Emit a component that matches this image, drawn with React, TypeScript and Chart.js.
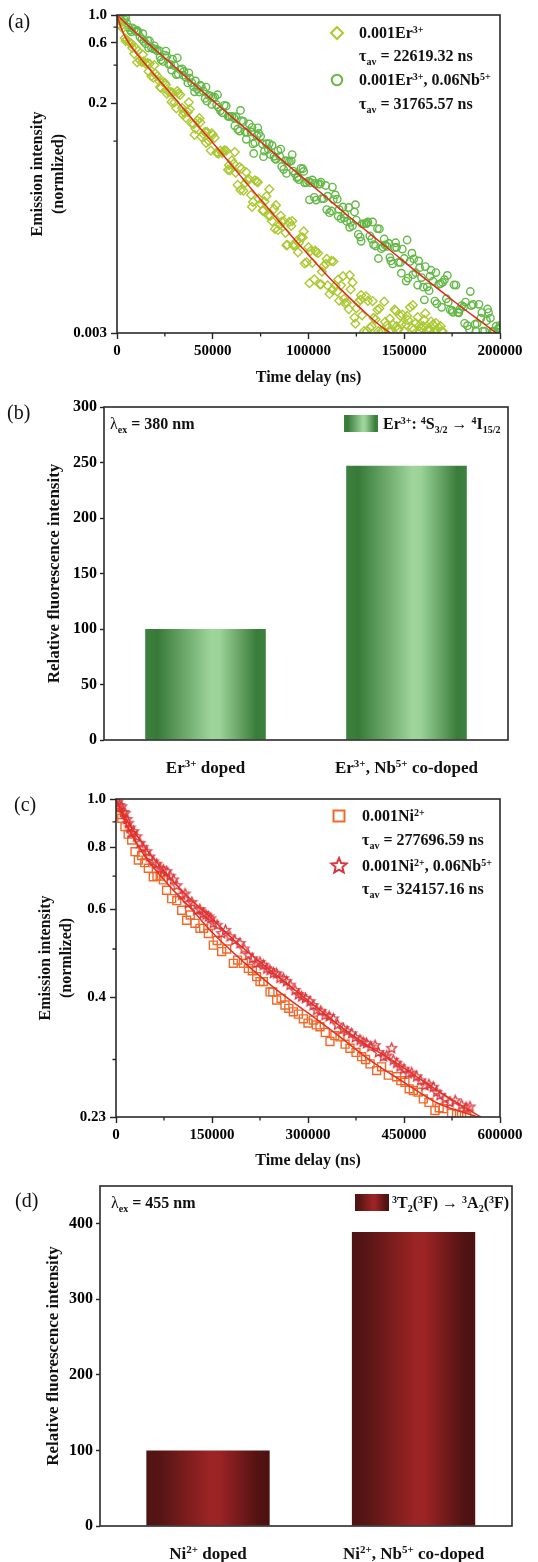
import React, { useEffect, useRef } from 'react';
import { Chart, registerables } from 'chart.js';

Chart.register(...registerables);

const SERIF = '"Liberation Serif", "Times New Roman", Times, serif';

// ---------------- Panel (a) data ----------------
const erTime = [0, 2000, 4000, 6000, 8000, 10000, 12000, 14000, 16000, 18000, 20000, 22000, 24000, 26000, 28000, 30000, 32000, 34000, 36000, 38000, 40000, 42000, 44000, 46000, 48000, 50000, 52000, 54000, 56000, 58000, 60000, 62000, 64000, 66000, 68000, 70000, 72000, 74000, 76000, 78000, 80000, 82000, 84000, 86000, 88000, 90000, 92000, 94000, 96000, 98000, 100000, 102000, 104000, 106000, 108000, 110000, 112000, 114000, 116000, 118000, 120000, 122000, 124000, 126000, 128000, 130000, 132000, 134000, 136000, 138000, 140000, 142000, 144000, 146000, 148000, 150000, 152000, 154000, 156000, 158000, 160000, 162000, 164000, 166000, 168000, 170000];
const erIntensity = [1.0, 0.818, 0.656, 0.615, 0.548, 0.543, 0.436, 0.428, 0.416, 0.327, 0.343, 0.299, 0.296, 0.238, 0.245, 0.203, 0.238, 0.183, 0.153, 0.179, 0.136, 0.145, 0.108, 0.118, 0.100, 0.112, 0.081, 0.0836, 0.0845, 0.0592, 0.0702, 0.0561, 0.0621, 0.0404, 0.049, 0.0374, 0.0488, 0.0349, 0.028, 0.0365, 0.0255, 0.0289, 0.0197, 0.0229, 0.0187, 0.0228, 0.0149, 0.0162, 0.0172, 0.0107, 0.0144, 0.0108, 0.0132, 0.00728, 0.0102, 0.00716, 0.0112, 0.00715, 0.00542, 0.00847, 0.00522, 0.00667, 0.00398, 0.00526, 0.00414, 0.00586, 0.00329, 0.00395, 0.00458, 0.0031, 0.00367, 0.0031, 0.00351, 0.0034, 0.0041, 0.0031, 0.0038, 0.0033, 0.0036, 0.0031, 0.0034, 0.0032, 0.0037, 0.0031, 0.0033, 0.0031];
const erTime2 = [1000, 3000, 5000, 7000, 9000, 11000, 13000, 15000, 17000, 19000, 21000, 23000, 25000, 27000, 29000, 31000, 33000, 35000, 37000, 39000, 41000, 43000, 45000, 47000, 49000, 51000, 53000, 55000, 57000, 59000, 61000, 63000, 65000, 67000, 69000, 71000, 73000, 75000, 77000, 79000, 81000, 83000, 85000, 87000, 89000, 91000, 93000, 95000, 97000, 99000, 101000, 103000, 105000, 107000, 109000, 111000, 113000, 115000, 117000, 119000, 121000, 123000, 125000, 127000, 129000, 131000, 133000, 135000, 137000, 139000, 141000, 143000, 145000, 147000, 149000, 151000, 153000, 155000, 157000, 159000, 161000, 163000, 165000, 167000, 169000];
const erIntensity2 = [0.845, 0.785, 0.635, 0.598, 0.492, 0.520, 0.422, 0.411, 0.410, 0.318, 0.328, 0.264, 0.289, 0.245, 0.242, 0.182, 0.233, 0.169, 0.170, 0.138, 0.125, 0.152, 0.114, 0.118, 0.084, 0.106, 0.0796, 0.0802, 0.0839, 0.0586, 0.0661, 0.0449, 0.0603, 0.0465, 0.0497, 0.0329, 0.0479, 0.0318, 0.0332, 0.0257, 0.0231, 0.031, 0.0216, 0.0232, 0.015, 0.0212, 0.0149, 0.0156, 0.0172, 0.0109, 0.0134, 0.008, 0.0129, 0.0092, 0.0106, 0.00612, 0.0111, 0.0064, 0.00717, 0.00516, 0.00465, 0.00756, 0.00472, 0.0055, 0.0031, 0.0054, 0.00339, 0.00385, 0.00469, 0.0031, 0.00345, 0.0031, 0.0046, 0.0032, 0.0042, 0.0035, 0.0048, 0.0032, 0.0040, 0.0033, 0.0043, 0.0031, 0.0035, 0.0032, 0.0034];
const erTime3 = [1500, 4500, 7500, 10500, 13500, 16500, 19500, 22500, 25500, 28500, 31500, 34500, 37500, 40500, 43500, 46500, 49500, 52500, 55500, 58500, 61500, 64500, 67500, 70500, 73500, 76500, 79500, 82500, 85500, 88500, 91500, 94500, 97500, 100500, 103500, 106500, 109500, 112500, 115500, 118500, 121500, 124500, 127500, 130500, 133500, 136500, 139500, 142500, 145500, 148500, 151500, 154500, 157500, 160500, 163500, 166500, 169500];
const erIntensity3 = [0.902, 0.621, 0.593, 0.421, 0.484, 0.357, 0.400, 0.268, 0.280, 0.204, 0.249, 0.162, 0.203, 0.112, 0.141, 0.0968, 0.115, 0.0805, 0.0824, 0.0644, 0.0817, 0.0409, 0.0566, 0.0301, 0.0471, 0.0282, 0.0415, 0.0201, 0.0255, 0.0149, 0.0232, 0.0131, 0.0192, 0.00746, 0.0135, 0.0073, 0.0116, 0.0066, 0.00796, 0.00558, 0.00863, 0.00356, 0.00598, 0.0031, 0.00538, 0.0031, 0.00532, 0.0039, 0.0045, 0.0035, 0.0041, 0.0050, 0.0034, 0.0038, 0.0032, 0.0036, 0.0031];
const erNbTime = [0, 2000, 4000, 6000, 8000, 10000, 12000, 14000, 16000, 18000, 20000, 22000, 24000, 26000, 28000, 30000, 32000, 34000, 36000, 38000, 40000, 42000, 44000, 46000, 48000, 50000, 52000, 54000, 56000, 58000, 60000, 62000, 64000, 66000, 68000, 70000, 72000, 74000, 76000, 78000, 80000, 82000, 84000, 86000, 88000, 90000, 92000, 94000, 96000, 98000, 100000, 102000, 104000, 106000, 108000, 110000, 112000, 114000, 116000, 118000, 120000, 122000, 124000, 126000, 128000, 130000, 132000, 134000, 136000, 138000, 140000, 142000, 144000, 146000, 148000, 150000, 152000, 154000, 156000, 158000, 160000, 162000, 164000, 166000, 168000, 170000, 172000, 174000, 176000, 178000, 180000, 182000, 184000, 186000, 188000, 190000, 192000, 194000, 196000, 198000, 200000];
const erNbIntensity = [1.0, 0.923, 0.916, 0.796, 0.791, 0.740, 0.670, 0.617, 0.627, 0.551, 0.535, 0.521, 0.428, 0.470, 0.404, 0.397, 0.340, 0.374, 0.320, 0.315, 0.270, 0.258, 0.272, 0.218, 0.230, 0.222, 0.194, 0.174, 0.192, 0.157, 0.157, 0.156, 0.120, 0.143, 0.117, 0.118, 0.097, 0.115, 0.0946, 0.0953, 0.0782, 0.0757, 0.0841, 0.0628, 0.0698, 0.0686, 0.0578, 0.0509, 0.0607, 0.0466, 0.048, 0.0491, 0.034, 0.0455, 0.0349, 0.0365, 0.0279, 0.0374, 0.0287, 0.030, 0.023, 0.0226, 0.0274, 0.0182, 0.022, 0.0221, 0.0177, 0.0151, 0.0202, 0.014, 0.015, 0.0154, 0.0106, 0.0143, 0.0109, 0.0117, 0.00818, 0.0129, 0.00902, 0.00989, 0.00693, 0.00697, 0.00944, 0.00538, 0.0073, 0.00755, 0.00562, 0.00458, 0.00723, 0.00437, 0.00494, 0.00528, 0.00321, 0.00506, 0.00356, 0.00393, 0.0031, 0.00436, 0.00307, 0.0034, 0.00345];
const erNbTime2 = [1000, 3000, 5000, 7000, 9000, 11000, 13000, 15000, 17000, 19000, 21000, 23000, 25000, 27000, 29000, 31000, 33000, 35000, 37000, 39000, 41000, 43000, 45000, 47000, 49000, 51000, 53000, 55000, 57000, 59000, 61000, 63000, 65000, 67000, 69000, 71000, 73000, 75000, 77000, 79000, 81000, 83000, 85000, 87000, 89000, 91000, 93000, 95000, 97000, 99000, 101000, 103000, 105000, 107000, 109000, 111000, 113000, 115000, 117000, 119000, 121000, 123000, 125000, 127000, 129000, 131000, 133000, 135000, 137000, 139000, 141000, 143000, 145000, 147000, 149000, 151000, 153000, 155000, 157000, 159000, 161000, 163000, 165000, 167000, 169000, 171000, 173000, 175000, 177000, 179000, 181000, 183000, 185000, 187000, 189000, 191000, 193000, 195000, 197000, 199000];
const erNbIntensity2 = [0.985, 0.880, 0.868, 0.756, 0.770, 0.737, 0.643, 0.592, 0.622, 0.539, 0.519, 0.441, 0.481, 0.408, 0.446, 0.337, 0.368, 0.357, 0.289, 0.291, 0.300, 0.245, 0.250, 0.207, 0.227, 0.223, 0.185, 0.168, 0.190, 0.156, 0.153, 0.124, 0.145, 0.118, 0.137, 0.095, 0.110, 0.109, 0.0831, 0.0861, 0.0923, 0.0716, 0.0756, 0.0597, 0.0693, 0.0697, 0.055, 0.0494, 0.0603, 0.0469, 0.0467, 0.0358, 0.0455, 0.0349, 0.0444, 0.027, 0.0343, 0.0346, 0.0242, 0.0262, 0.0297, 0.0213, 0.0236, 0.0173, 0.022, 0.0228, 0.0167, 0.0147, 0.0201, 0.0144, 0.0146, 0.0112, 0.0143, 0.0109, 0.0139, 0.00774, 0.0111, 0.0116, 0.0072, 0.00826, 0.0101, 0.0065, 0.00772, 0.00513, 0.00738, 0.00794, 0.00527, 0.00453, 0.0072, 0.00462, 0.00483, 0.00343, 0.00495, 0.00352, 0.00507, 0.0031, 0.00376, 0.00394, 0.0031, 0.0032];
const erNbTime3 = [1500, 4500, 7500, 10500, 13500, 16500, 19500, 22500, 25500, 28500, 31500, 34500, 37500, 40500, 43500, 46500, 49500, 52500, 55500, 58500, 61500, 64500, 67500, 70500, 73500, 76500, 79500, 82500, 85500, 88500, 91500, 94500, 97500, 100500, 103500, 106500, 109500, 112500, 115500, 118500, 121500, 124500, 127500, 130500, 133500, 136500, 139500, 142500, 145500, 148500, 151500, 154500, 157500, 160500, 163500, 166500, 169500, 172500, 175500, 178500, 181500, 184500, 187500, 190500, 193500, 196500, 199500, 71400];
const erNbIntensity3 = [0.903, 0.952, 0.734, 0.755, 0.711, 0.548, 0.569, 0.466, 0.517, 0.366, 0.457, 0.333, 0.348, 0.246, 0.277, 0.268, 0.195, 0.233, 0.167, 0.157, 0.132, 0.175, 0.1032, 0.1285, 0.1274, 0.0752, 0.0955, 0.0724, 0.0864, 0.0554, 0.0781, 0.0522, 0.0574, 0.0342, 0.0461, 0.0472, 0.0286, 0.0431, 0.0254, 0.0246, 0.0207, 0.0313, 0.016, 0.0222, 0.0228, 0.0117, 0.0167, 0.0119, 0.0156, 0.00895, 0.0164, 0.0087, 0.0112, 0.0055, 0.00848, 0.00905, 0.0048, 0.00858, 0.00438, 0.00434, 0.00358, 0.0064, 0.0031, 0.00436, 0.00465, 0.0031, 0.00328, 0.0797];
const erFitTime = [0, 2000, 5000, 10000, 20000, 30000, 40000, 50000, 60000, 70000, 80000, 90000, 100000, 110000, 120000, 130000, 140000, 143000];
const erFitValue = [1.0, 0.80, 0.64, 0.50, 0.33, 0.22, 0.145, 0.097, 0.064, 0.042, 0.028, 0.0185, 0.0125, 0.0085, 0.006, 0.0043, 0.0032, 0.003];
const erNbFitTime = [0, 10000, 20000, 30000, 40000, 50000, 60000, 70000, 80000, 90000, 100000, 110000, 120000, 130000, 140000, 150000, 160000, 170000, 180000, 190000, 198000];
const erNbFitValue = [1.0, 0.72, 0.53, 0.39, 0.285, 0.21, 0.155, 0.115, 0.085, 0.063, 0.047, 0.035, 0.026, 0.0195, 0.0147, 0.011, 0.0083, 0.0063, 0.0048, 0.0037, 0.003];
const timeTicksA = [0, 50000, 100000, 150000, 200000];
const timeMinorA = [25000, 75000, 125000, 175000];
const intensityTicksA = [0.003, 0.2, 0.6, 1.0];
const intensityLabelsA = ['0.003', '0.2', '0.6', '1.0'];
const intensityMinorA = [0.1, 0.4, 0.8];

// ---------------- Panel (b) data ----------------
const barPositionsB = [1, 2];
const barValuesB = [100, 247];
const intensityTicksB = [0, 50, 100, 150, 200, 250, 300];

// ---------------- Panel (c) data ----------------
const niTime = [3000, 9000, 14000, 24500, 29700, 34900, 50500, 58300, 74000, 79000, 87000, 102600, 110400, 123400, 131200, 144300, 152100, 165100, 183300, 198900, 206800, 219800, 230200, 240600, 251000, 264000, 277100, 292700, 308300, 318700, 334400, 350000, 365600, 383800, 396900, 407300, 425500, 438500, 451500, 464600, 480200, 498400, 511400, 524400, 540100];
const niIntensity = [0.960, 0.915, 0.880, 0.827, 0.784, 0.754, 0.726, 0.698, 0.688, 0.656, 0.631, 0.598, 0.571, 0.563, 0.550, 0.537, 0.509, 0.494, 0.468, 0.468, 0.457, 0.440, 0.430, 0.410, 0.395, 0.386, 0.374, 0.362, 0.360, 0.349, 0.326, 0.333, 0.316, 0.304, 0.294, 0.285, 0.279, 0.277, 0.270, 0.260, 0.250, 0.237, 0.239, 0.234, 0.232];
const niTime2 = [6000, 19000, 40000, 45000, 64000, 69000, 95000, 116000, 137000, 158000, 173000, 190000, 213000, 225000, 245000, 258000, 270000, 285000, 300000, 313000, 327000, 342000, 358000, 375000, 390000, 415000, 445000, 458000, 472000, 489000, 505000, 532000, 548000];
const niIntensity2 = [0.930, 0.850, 0.770, 0.745, 0.700, 0.700, 0.625, 0.585, 0.550, 0.520, 0.500, 0.475, 0.452, 0.430, 0.410, 0.398, 0.380, 0.370, 0.355, 0.352, 0.340, 0.335, 0.322, 0.310, 0.300, 0.290, 0.272, 0.262, 0.258, 0.246, 0.240, 0.233, 0.231];
const niNbTime = [2000, 8900, 14100, 19300, 24500, 32300, 37500, 47900, 58300, 68700, 79200, 89600, 102600, 113000, 126000, 136500, 144300, 152100, 165100, 178100, 193700, 206800, 219800, 230200, 240600, 251000, 261400, 271900, 279700, 290100, 303100, 313500, 326500, 339600, 355200, 368200, 381200, 391600, 404700, 417700, 430700, 433300, 443700, 456700, 469800, 482800, 495800, 506200, 521800, 540100, 553100];
const niNbIntensity = [0.985, 0.965, 0.936, 0.894, 0.853, 0.840, 0.815, 0.784, 0.748, 0.726, 0.715, 0.688, 0.641, 0.617, 0.598, 0.589, 0.580, 0.563, 0.537, 0.529, 0.513, 0.486, 0.468, 0.464, 0.453, 0.446, 0.436, 0.423, 0.413, 0.401, 0.392, 0.377, 0.368, 0.362, 0.346, 0.338, 0.328, 0.323, 0.320, 0.304, 0.316, 0.299, 0.290, 0.281, 0.277, 0.266, 0.264, 0.254, 0.246, 0.243, 0.241];
const niNbTime2 = [5500, 11500, 17000, 22000, 27500, 42000, 52500, 63500, 74000, 84500, 95000, 108000, 118500, 131000, 140500, 148000, 158000, 171000, 185500, 200000, 213000, 225000, 235500, 246000, 256000, 266500, 285000, 296000, 308000, 320000, 333000, 346000, 361000, 374000, 386000, 398000, 410000, 423000, 438500, 450000, 462000, 476000, 489000, 501000, 514000, 530000, 547000];
const niNbIntensity2 = [0.970, 0.940, 0.910, 0.875, 0.860, 0.800, 0.765, 0.740, 0.720, 0.700, 0.670, 0.645, 0.620, 0.600, 0.585, 0.575, 0.558, 0.545, 0.520, 0.500, 0.478, 0.470, 0.456, 0.447, 0.437, 0.430, 0.405, 0.398, 0.385, 0.375, 0.366, 0.352, 0.342, 0.332, 0.325, 0.318, 0.310, 0.305, 0.295, 0.287, 0.282, 0.272, 0.267, 0.258, 0.250, 0.248, 0.240];
const niFitTime = [0, 10000, 20000, 40000, 60000, 90000, 120000, 150000, 200000, 250000, 300000, 350000, 400000, 450000, 500000, 565000];
const niFitValue = [1.0, 0.93, 0.87, 0.785, 0.725, 0.655, 0.597, 0.54, 0.47, 0.415, 0.372, 0.333, 0.297, 0.27, 0.246, 0.23];
const niNbFitTime = [0, 15000, 30000, 50000, 80000, 110000, 150000, 185000, 230000, 270000, 310000, 350000, 390000, 430000, 470000, 510000, 570000];
const niNbFitValue = [1.0, 0.915, 0.855, 0.785, 0.705, 0.641, 0.575, 0.52, 0.465, 0.423, 0.385, 0.35, 0.322, 0.3, 0.277, 0.256, 0.23];
const timeTicksC = [0, 150000, 300000, 450000, 600000];
const timeMinorC = [75000, 225000, 375000, 525000];
const intensityTicksC = [0.23, 0.4, 0.6, 0.8, 1.0];
const intensityLabelsC = ['0.23', '0.4', '0.6', '0.8', '1.0'];
const intensityMinorC = [0.3, 0.5, 0.7, 0.9];

// ---------------- Panel (d) data ----------------
const barPositionsD = [1, 2];
const barValuesD = [100, 389];
const intensityTicksD = [0, 100, 200, 300, 400];

// ---------------- styles ----------------
const C_ER = '#abc932';
const C_ERNB = '#63b846';
const RED_A = '#e8261c';
const C_NI = '#f0692a';
const C_NINB = '#d9363e';
const RED_C = '#e6301f';
const TEXT = '#111';
const GREEN_STOPS = [[0, '#3e823f'], [0.1, '#377a38'], [0.55, '#9fd59b'], [0.62, '#9bd297'], [0.92, '#3a7d3b'], [1, '#3d813e']];
const RED_STOPS = [[0, '#4f1313'], [0.12, '#581515'], [0.52, '#9d2424'], [0.6, '#9a2323'], [0.9, '#531313'], [1, '#4c1111']];

type Seg = { t: string; s?: 'sup' | 'sub'; n?: boolean };

function drawRich(ctx: CanvasRenderingContext2D, segs: Seg[], x: number, yCenter: number, size: number, align = 'left') {
  const font = (g: Seg) => `${g.n ? '' : 'bold '}${g.s ? Math.round(size * 0.64) : size}px ${SERIF}`;
  const widths = segs.map((g) => { ctx.font = font(g); return ctx.measureText(g.t).width; });
  const total = widths.reduce((p, w) => p + w, 0);
  let cx = align === 'center' ? x - total / 2 : align === 'right' ? x - total : x;
  const base = yCenter + size * 0.34;
  ctx.textAlign = 'left';
  ctx.textBaseline = 'alphabetic';
  segs.forEach((g, i) => {
    ctx.font = font(g);
    const dy = g.s === 'sup' ? -size * 0.36 : g.s === 'sub' ? size * 0.24 : 0;
    ctx.fillText(g.t, cx, base + dy);
    cx += widths[i];
  });
  return total;
}

function drawRotated(ctx: CanvasRenderingContext2D, segs: Seg[], x: number, y: number, size: number) {
  ctx.save();
  ctx.translate(x, y);
  ctx.rotate(-Math.PI / 2);
  drawRich(ctx, segs, 0, 0, size, 'center');
  ctx.restore();
}

function hGrad(ctx: CanvasRenderingContext2D, x0: number, x1: number, stops: any[]) {
  const g = ctx.createLinearGradient(x0, 0, x1, 0);
  stops.forEach(([o, c]) => g.addColorStop(o, c));
  return g;
}

function frame(ctx: CanvasRenderingContext2D, a: any) {
  ctx.strokeStyle = '#2a2a2a';
  ctx.lineWidth = 1.6;
  ctx.strokeRect(a.left, a.top, a.right - a.left, a.bottom - a.top);
}

function minorTicks(ctx: CanvasRenderingContext2D, chart: any, xVals: number[], yVals: number[], len: number) {
  const a = chart.chartArea;
  const xs = chart.scales.x;
  const ys = chart.scales.y;
  ctx.strokeStyle = '#222';
  ctx.lineWidth = 1.3;
  ctx.beginPath();
  xVals.forEach((v) => { const p = xs.getPixelForValue(v); ctx.moveTo(p, a.bottom); ctx.lineTo(p, a.bottom + len); });
  yVals.forEach((v) => { const p = ys.getPixelForValue(v); ctx.moveTo(a.left - len, p); ctx.lineTo(a.left, p); });
  ctx.stroke();
}

function panelLabel(ctx: CanvasRenderingContext2D, text: string, x: number, yCenter: number) {
  ctx.font = `20px ${SERIF}`;
  ctx.fillStyle = TEXT;
  ctx.textAlign = 'left';
  ctx.textBaseline = 'middle';
  ctx.fillText(text, x, yCenter);
}

function starPath(g: CanvasRenderingContext2D, cx: number, cy: number, R: number) {
  const r = R * 0.45;
  g.beginPath();
  for (let i = 0; i < 10; i++) {
    const ang = -Math.PI / 2 + (i * Math.PI) / 5;
    const rr = i % 2 === 0 ? R : r;
    g.lineTo(cx + rr * Math.cos(ang), cy + rr * Math.sin(ang));
  }
  g.closePath();
}

function makeStar(color: string, R: number, lw: number) {
  const size = Math.ceil(2 * R + lw * 2 + 2);
  const c = document.createElement('canvas');
  c.width = size;
  c.height = size;
  const g = c.getContext('2d') as CanvasRenderingContext2D;
  starPath(g, size / 2, size / 2, R);
  g.strokeStyle = color;
  g.lineWidth = lw;
  g.stroke();
  return c;
}

const tickFont = (size: number) => ({ family: SERIF, size, weight: 'bold' as const });

function xLinearAxis(min: number, max: number, ticks: number[], height: number, fontSize: number) {
  return {
    type: 'linear', min, max, offset: false,
    afterBuildTicks: (s: any) => { s.ticks = ticks.map((v) => ({ value: v })); },
    afterFit: (s: any) => { s.height = height; s.paddingLeft = 0; s.paddingRight = 0; },
    ticks: { autoSkip: false, maxRotation: 0, minRotation: 0, padding: 3, color: '#000', font: tickFont(fontSize), callback: (v: any) => String(v) },
    grid: { display: true, drawOnChartArea: false, drawTicks: true, tickLength: 6, tickWidth: 1.4, tickColor: '#222', offset: false },
    border: { display: false },
  };
}

function yLogAxis(min: number, max: number, ticks: number[], labels: string[], width: number, fontSize: number) {
  return {
    type: 'logarithmic', min, max,
    afterBuildTicks: (s: any) => { s.ticks = ticks.map((v) => ({ value: v })); },
    afterFit: (s: any) => { s.width = width; s.paddingTop = 0; s.paddingBottom = 0; },
    ticks: { autoSkip: false, padding: 4, color: '#000', font: tickFont(fontSize), callback: (v: any) => { const i = ticks.indexOf(v); return i >= 0 ? labels[i] : ''; } },
    grid: { display: true, drawOnChartArea: false, drawTicks: true, tickLength: 6, tickWidth: 1.4, tickColor: '#222' },
    border: { display: false },
  };
}

function markerDs(xs: number[], ys: number[], style: any, color: string, radius: number, order: number) {
  return {
    data: xs.map((x, i) => ({ x, y: ys[i] })),
    pointStyle: style, pointRadius: radius, pointHoverRadius: radius,
    borderColor: color, pointBorderColor: color,
    backgroundColor: 'rgba(0,0,0,0)', pointBackgroundColor: 'rgba(0,0,0,0)',
    pointBorderWidth: 1.4, showLine: false, clip: 0, order,
  };
}

function fitDs(xs: number[], ys: number[], color: string) {
  return {
    data: xs.map((x, i) => ({ x, y: ys[i] })),
    showLine: true, borderColor: color, borderWidth: 1.5, pointRadius: 0, pointHoverRadius: 0,
    cubicInterpolationMode: 'monotone', fill: false, clip: 0, order: 0,
  };
}

// ---------------- Panel (a) ----------------
function makeA(top: number) {
  return {
    type: 'scatter',
    data: {
      datasets: [
        fitDs(erFitTime, erFitValue, RED_A),
        fitDs(erNbFitTime, erNbFitValue, RED_A),
        markerDs(erTime, erIntensity, 'rectRot', C_ER, 4.4, 1),
        markerDs(erTime2, erIntensity2, 'rectRot', C_ER, 4.4, 1),
        markerDs(erTime3, erIntensity3, 'rectRot', C_ER, 4.4, 1),
        markerDs(erNbTime, erNbIntensity, 'circle', C_ERNB, 3.7, 2),
        markerDs(erNbTime2, erNbIntensity2, 'circle', C_ERNB, 3.7, 2),
        markerDs(erNbTime3, erNbIntensity3, 'circle', C_ERNB, 3.7, 2),
      ],
    },
    options: {
      responsive: false, animation: false, events: [],
      layout: { padding: { left: 0, right: 538 - 500, top: 15 - top, bottom: 0 } },
      plugins: { legend: { display: false }, tooltip: { enabled: false } },
      scales: {
        x: xLinearAxis(0, 200000, timeTicksA, 392 - 333, 15),
        y: yLogAxis(0.003, 1, intensityTicksA, intensityLabelsA, 117, 15),
      },
    },
    plugins: [{
      id: 'decorA',
      afterDraw(chart: any) {
        const { ctx, chartArea: a } = chart;
        ctx.save();
        frame(ctx, a);
        minorTicks(ctx, chart, timeMinorA, intensityMinorA, 3.5);
        ctx.fillStyle = TEXT;
        drawRich(ctx, [{ t: 'Time delay (ns)' }], (a.left + a.right) / 2, 377 - top, 16, 'center');
        drawRotated(ctx, [{ t: 'Emission intensity' }], 37, (a.top + a.bottom) / 2, 16);
        drawRotated(ctx, [{ t: '(normlized)' }], 58, (a.top + a.bottom) / 2, 16);
        ctx.strokeStyle = C_ER;
        ctx.lineWidth = 2;
        ctx.beginPath();
        ctx.moveTo(337, 33 - top - 6); ctx.lineTo(343, 33 - top); ctx.lineTo(337, 33 - top + 6); ctx.lineTo(331, 33 - top); ctx.closePath();
        ctx.stroke();
        ctx.strokeStyle = C_ERNB;
        ctx.beginPath();
        ctx.arc(337, 80 - top, 5.2, 0, Math.PI * 2);
        ctx.stroke();
        ctx.fillStyle = TEXT;
        drawRich(ctx, [{ t: '0.001Er' }, { t: '3+', s: 'sup' }], 359, 33 - top, 16);
        drawRich(ctx, [{ t: 'τ' }, { t: 'av', s: 'sub' }, { t: ' = 22619.32 ns' }], 359, 56 - top, 16);
        drawRich(ctx, [{ t: '0.001Er' }, { t: '3+', s: 'sup' }, { t: ', 0.06Nb' }, { t: '5+', s: 'sup' }], 359, 80 - top, 16);
        drawRich(ctx, [{ t: 'τ' }, { t: 'av', s: 'sub' }, { t: ' = 31765.57 ns' }], 359, 104 - top, 16);
        panelLabel(ctx, '(a)', 8, 23 - top);
        ctx.restore();
      },
    }],
  };
}

// ---------------- bar panels ----------------
function barGradient(positions: number[], stops: any[]) {
  return (c: any) => {
    const xs = c.chart.scales.x;
    const fallback = stops[2][1];
    if (!xs || c.dataIndex === undefined) return fallback;
    const cx = xs.getPixelForValue(positions[c.dataIndex]);
    const half = ((xs.getPixelForValue(2) - xs.getPixelForValue(1)) * 0.6) / 2;
    if (!isFinite(cx) || !isFinite(half) || half <= 0) return fallback;
    return hGrad(c.chart.ctx, cx - half, cx + half, stops);
  };
}

function makeBar(opts: any) {
  const { top, height, positions, values, ticks, yMax, xMin, xMax, left, right, areaTop, areaBottom, stops, decor } = opts;
  return {
    type: 'bar',
    data: {
      datasets: [{
        data: positions.map((x: number, i: number) => ({ x, y: values[i] })),
        backgroundColor: barGradient(positions, stops),
        borderWidth: 0, barPercentage: 0.6, categoryPercentage: 1,
      }],
    },
    options: {
      responsive: false, animation: false, events: [],
      layout: { padding: { left: 0, right: 538 - right, top: areaTop - top, bottom: 0 } },
      plugins: { legend: { display: false }, tooltip: { enabled: false } },
      scales: {
        x: {
          type: 'linear', min: xMin, max: xMax, offset: false,
          afterBuildTicks: (s: any) => { s.ticks = positions.map((v: number) => ({ value: v })); },
          afterFit: (s: any) => { s.height = top + height - areaBottom; s.paddingLeft = 0; s.paddingRight = 0; },
          ticks: { display: false },
          grid: { display: false, offset: false },
          border: { display: false },
        },
        y: {
          type: 'linear', min: 0, max: yMax,
          afterBuildTicks: (s: any) => { s.ticks = ticks.map((v: number) => ({ value: v })); },
          afterFit: (s: any) => { s.width = left; s.paddingTop = 0; s.paddingBottom = 0; },
          ticks: { autoSkip: false, padding: 3, color: '#000', font: tickFont(16), callback: (v: any) => String(v) },
          grid: { display: true, drawOnChartArea: false, drawTicks: true, tickLength: 4, tickWidth: 1.4, tickColor: '#222' },
          border: { display: false },
        },
      },
    },
    plugins: [{ id: 'decorBar', afterDraw: (chart: any) => { const ctx = chart.ctx; ctx.save(); frame(ctx, chart.chartArea); ctx.fillStyle = TEXT; decor(chart, ctx); ctx.restore(); } }],
  };
}

function makeB(top: number) {
  return makeBar({
    top, height: 388, positions: barPositionsB, values: barValuesB, ticks: intensityTicksB, yMax: 300,
    xMin: 0.495, xMax: 2.505, left: 104, right: 508, areaTop: 407, areaBottom: 740, stops: GREEN_STOPS,
    decor: (chart: any, ctx: CanvasRenderingContext2D) => {
      const a = chart.chartArea;
      const xs = chart.scales.x;
      drawRotated(ctx, [{ t: 'Relative fluorescence intensity' }], 53, (a.top + a.bottom) / 2, 17);
      drawRich(ctx, [{ t: 'Er' }, { t: '3+', s: 'sup' }, { t: ' doped' }], xs.getPixelForValue(barPositionsB[0]), 767 - top, 17, 'center');
      drawRich(ctx, [{ t: 'Er' }, { t: '3+', s: 'sup' }, { t: ', Nb' }, { t: '5+', s: 'sup' }, { t: ' co-doped' }], xs.getPixelForValue(barPositionsB[1]), 767 - top, 17, 'center');
      drawRich(ctx, [{ t: 'λ', n: true }, { t: 'ex', s: 'sub' }, { t: ' = 380 nm' }], 110, 424 - top, 16);
      ctx.fillStyle = hGrad(ctx, 344, 378, GREEN_STOPS);
      ctx.fillRect(344, 415 - top, 34, 17);
      ctx.fillStyle = TEXT;
      drawRich(ctx, [{ t: 'Er' }, { t: '3+', s: 'sup' }, { t: ': ' }, { t: '4', s: 'sup' }, { t: 'S' }, { t: '3/2', s: 'sub' }, { t: ' → ' }, { t: '4', s: 'sup' }, { t: 'I' }, { t: '15/2', s: 'sub' }], 383, 424 - top, 16);
      panelLabel(ctx, '(b)', 7, 414 - top);
    },
  });
}

function makeD(top: number) {
  return makeBar({
    top, height: 382, positions: barPositionsD, values: barValuesD, ticks: intensityTicksD, yMax: 450,
    xMin: 0.4745, xMax: 2.479, left: 100, right: 512, areaTop: 1186, areaBottom: 1526, stops: RED_STOPS,
    decor: (chart: any, ctx: CanvasRenderingContext2D) => {
      const a = chart.chartArea;
      const xs = chart.scales.x;
      drawRotated(ctx, [{ t: 'Relative fluorescence intensity' }], 52, (a.top + a.bottom) / 2, 17);
      drawRich(ctx, [{ t: 'Ni' }, { t: '2+', s: 'sup' }, { t: ' doped' }], xs.getPixelForValue(barPositionsD[0]), 1553 - top, 17, 'center');
      drawRich(ctx, [{ t: 'Ni' }, { t: '2+', s: 'sup' }, { t: ', Nb' }, { t: '5+', s: 'sup' }, { t: ' co-doped' }], xs.getPixelForValue(barPositionsD[1]), 1553 - top, 17, 'center');
      drawRich(ctx, [{ t: 'λ', n: true }, { t: 'ex', s: 'sub' }, { t: ' = 455 nm' }], 111, 1203 - top, 16);
      ctx.fillStyle = hGrad(ctx, 355, 389, RED_STOPS);
      ctx.fillRect(355, 1194 - top, 34, 17);
      ctx.fillStyle = TEXT;
      drawRich(ctx, [{ t: '3', s: 'sup' }, { t: 'T' }, { t: '2', s: 'sub' }, { t: '(' }, { t: '3', s: 'sup' }, { t: 'F) → ' }, { t: '3', s: 'sup' }, { t: 'A' }, { t: '2', s: 'sub' }, { t: '(' }, { t: '3', s: 'sup' }, { t: 'F)' }], 392, 1203 - top, 16);
      panelLabel(ctx, '(d)', 15, 1202 - top);
    },
  });
}

// ---------------- Panel (c) ----------------
function makeC(top: number) {
  const star = makeStar(C_NINB, 5.2, 1.3);
  return {
    type: 'scatter',
    data: {
      datasets: [
        fitDs(niFitTime, niFitValue, RED_C),
        fitDs(niNbFitTime, niNbFitValue, RED_C),
        markerDs(niTime, niIntensity, 'rect', C_NI, 5.6, 2),
        markerDs(niTime2, niIntensity2, 'rect', C_NI, 5.6, 2),
        markerDs(niNbTime, niNbIntensity, star, C_NINB, 5, 1),
        markerDs(niNbTime2, niNbIntensity2, star, C_NINB, 5, 1),
      ],
    },
    options: {
      responsive: false, animation: false, events: [],
      layout: { padding: { left: 0, right: 538 - 500, top: 799 - top, bottom: 0 } },
      plugins: { legend: { display: false }, tooltip: { enabled: false } },
      scales: {
        x: xLinearAxis(0, 600000, timeTicksC, top + 400 - 1117, 15),
        y: yLogAxis(0.23, 1, intensityTicksC, intensityLabelsC, 116, 15),
      },
    },
    plugins: [{
      id: 'decorC',
      afterDraw(chart: any) {
        const { ctx, chartArea: a } = chart;
        ctx.save();
        frame(ctx, a);
        minorTicks(ctx, chart, timeMinorC, intensityMinorC, 3.5);
        ctx.fillStyle = TEXT;
        drawRich(ctx, [{ t: 'Time delay (ns)' }], (a.left + a.right) / 2, 1160 - top, 16, 'center');
        drawRotated(ctx, [{ t: 'Emission intensity' }], 45, (a.top + a.bottom) / 2, 16);
        drawRotated(ctx, [{ t: '(normlized)' }], 66, (a.top + a.bottom) / 2, 16);
        ctx.strokeStyle = C_NI;
        ctx.lineWidth = 2;
        ctx.strokeRect(339 - 5.5, 816 - top - 5.5, 11, 11);
        ctx.strokeStyle = C_NINB;
        ctx.lineWidth = 2;
        starPath(ctx, 339, 866 - top, 8);
        ctx.stroke();
        ctx.fillStyle = TEXT;
        drawRich(ctx, [{ t: '0.001Ni' }, { t: '2+', s: 'sup' }], 362, 816 - top, 16);
        drawRich(ctx, [{ t: 'τ' }, { t: 'av', s: 'sub' }, { t: ' = 277696.59 ns' }], 362, 840 - top, 16);
        drawRich(ctx, [{ t: '0.001Ni' }, { t: '2+', s: 'sup' }, { t: ', 0.06Nb' }, { t: '5+', s: 'sup' }], 362, 866 - top, 16);
        drawRich(ctx, [{ t: 'τ' }, { t: 'av', s: 'sub' }, { t: ' = 324157.16 ns' }], 362, 889 - top, 16);
        panelLabel(ctx, '(c)', 14, 806 - top);
        ctx.restore();
      },
    }],
  };
}

function ChartCanvas({ top, height, make }: { top: number; height: number; make: (top: number) => any }) {
  const ref = useRef<HTMLCanvasElement>(null);
  useEffect(() => {
    const chart = new Chart(ref.current as HTMLCanvasElement, make(top));
    return () => chart.destroy();
  }, []);
  return <canvas ref={ref} width={538} height={height} style={{ position: 'absolute', left: 0, top, width: 538, height, display: 'block' }} />;
}

export default function App() {
  return (
    <div style={{ position: 'absolute', left: 0, top: 0, width: 538, height: 1562, background: '#fff', overflow: 'hidden' }}>
      <ChartCanvas top={0} height={392} make={makeA} />
      <ChartCanvas top={392} height={388} make={makeB} />
      <ChartCanvas top={780} height={400} make={makeC} />
      <ChartCanvas top={1180} height={382} make={makeD} />
    </div>
  );
}
